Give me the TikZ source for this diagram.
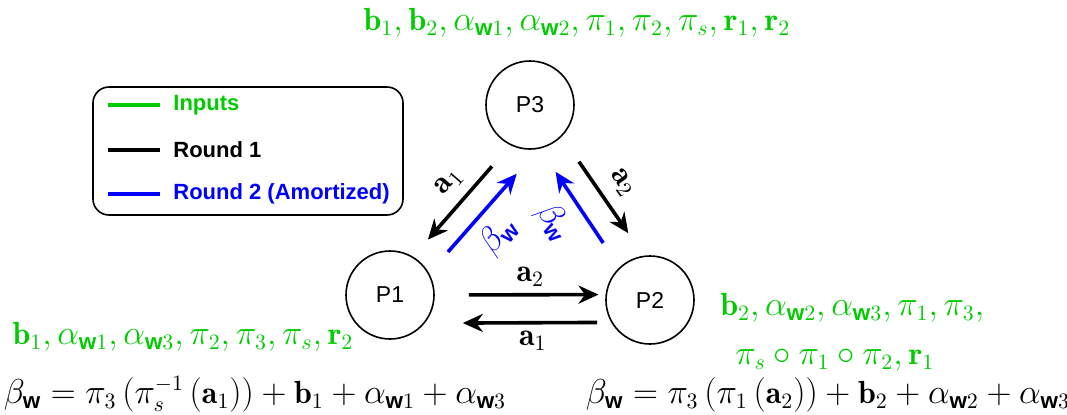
\documentclass[tikz,border=0pt]{standalone}
\usepackage{amsmath, amssymb}
\usepackage{fontspec}
\newfontfamily\helv{Liberation Sans}
\usepackage{xcolor}
\usetikzlibrary{arrows.meta, positioning}
\definecolor{inputgreen}{RGB}{0,204,0}
\newcommand{\wvec}{\text{\helv\bfseries w}}

\begin{document}
\begin{tikzpicture}[
    x=0.5pt, y=-0.5pt,
    >=Stealth,
    party/.style={circle, draw=black, thick, minimum size=44pt, inner sep=0pt, font=\helv\fontsize{11.5}{13}\selectfont},
    round1/.style={draw=black, line width=1.8pt, -{Stealth[length=10pt, width=9pt]}},
    round2/.style={draw=blue, line width=1.8pt, -{Stealth[length=10pt, width=9pt]}},
    lbl/.style={font=\fontsize{16}{19}\selectfont, inner sep=3pt},
    inlbl/.style={font=\fontsize{16}{19}\selectfont, text=inputgreen, inner sep=0pt},
    eqlbl/.style={font=\fontsize{16}{19}\selectfont, inner sep=0pt, anchor=base},
    legtext/.style={font=\helv\bfseries\fontsize{11}{13}\selectfont, anchor=west, inner sep=0pt},
    legline/.style={line width=2pt}
]
    \useasboundingbox (0,0) rectangle (1067,414);

    % Parties
    \node [party] (p3) at (530,105) {P3};
    \node [party] (p1) at (390,295) {P1};
    \node [party] (p2) at (650,300) {P2};

    % Inputs of each party
    \node [inlbl, anchor=base] (in3) at (577,30) {$\mathbf{b}_1, \mathbf{b}_2, \alpha_{\wvec 1}, \alpha_{\wvec 2}, \pi_1, \pi_2, \pi_s, \mathbf{r}_1, \mathbf{r}_2$};
    \node [inlbl, anchor=base] (in1) at (183,344) {$\mathbf{b}_1, \alpha_{\wvec 1}, \alpha_{\wvec 3}, \pi_2, \pi_3, \pi_s, \mathbf{r}_2$};
    \node [inlbl, anchor=north west, align=left] (in2) at (720,293) {$\mathbf{b}_2, \alpha_{\wvec 2}, \alpha_{\wvec 3}, \pi_1, \pi_3,$\\[5.5pt]
        \hspace*{7.5pt}$\pi_s \circ \pi_1 \circ \pi_2, \mathbf{r}_1$};

    % Outputs
    \node [eqlbl] (out1) at (255,403) {$\beta_{\wvec} = \pi_3\left(\pi_s^{-1}\left(\mathbf{a}_1\right)\right) + \mathbf{b}_1 + \alpha_{\wvec 1} + \alpha_{\wvec 3}$};
    \node [eqlbl] (out2) at (828,403) {$\beta_{\wvec} = \pi_3\left(\pi_1\left(\mathbf{a}_2\right)\right) + \mathbf{b}_2 + \alpha_{\wvec 2} + \alpha_{\wvec 3}$};

    % Round 1
    \draw [round1, shorten <=14pt, shorten >=11.3pt] (p3.244.7) -- node[lbl, sloped, above=2pt, pos=0.46] {$\mathbf{a}_1$} (p1.59.8);
    \draw [round1, shorten <=15.2pt, shorten >=13.6pt] (p3.315.8) -- node[lbl, sloped, above=3pt, pos=0.5] {$\mathbf{a}_2$} (p2.98.4);
    \draw [round1, shorten <=17pt, shorten >=3.5pt] (p1.0) -- node[lbl, above, pos=0.56] {$\mathbf{a}_2$} (p2.173.6);
    \draw [round1, shorten <=7pt, shorten >=19pt] (p2.210.7) -- node[lbl, below, pos=0.42] {$\mathbf{a}_1$} (p1.-39.5);

    % Round 2
    \draw [round2, shorten <=14.2pt, shorten >=16.5pt] (p1.29.5) -- node[lbl, text=blue, sloped, below=2pt, pos=0.45] {$\beta_{\wvec}$} (p3.281.8);
    \draw [round2, shorten <=14.6pt, shorten >=13.9pt] (p2.133.6) -- node[lbl, text=blue, sloped, below=3pt, pos=0.52] {$\beta_{\wvec}$} (p3.283.2);

    % Legend
    \node [draw=black, thick, rounded corners=8pt, minimum width=155pt, minimum height=64pt] (legend) at (248,151) {};
    \node [legtext, text=inputgreen] (leginputs) at (173,105) {Inputs};
    \node [legtext] (legr1) at (173,150) {Round 1};
    \node [legtext, text=blue] (legr2) at (173,194) {Round 2 (Amortized)};
    \draw [legline, inputgreen] ([xshift=-6.5pt]leginputs.west) -- ++(-26pt,0);
    \draw [legline, black] ([xshift=-6.5pt]legr1.west) -- ++(-26pt,0);
    \draw [legline, blue] ([xshift=-6.5pt]legr2.west) -- ++(-26pt,0);

\end{tikzpicture}
\end{document}
